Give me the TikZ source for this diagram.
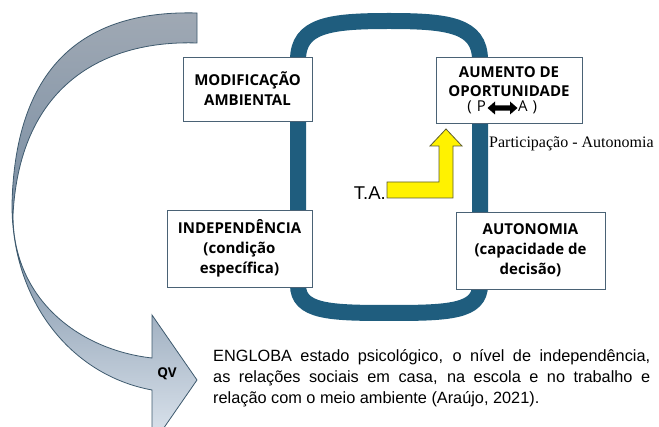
\documentclass[tikz,border=0pt]{standalone}
\usepackage{fontspec}
\setmainfont{Liberation Sans}
\newfontfamily\boxfont{Open Sans}
\newfontfamily\serifont{Liberation Serif}
\definecolor{loopblue}{RGB}{31,93,126}
\definecolor{boxline}{RGB}{74,98,117}
\definecolor{arrowline}{RGB}{62,90,110}
\definecolor{graytop}{RGB}{160,169,180}
\definecolor{graymid}{RGB}{120,141,163}
\definecolor{graybot}{RGB}{222,230,239}
\definecolor{yelline}{RGB}{92,92,46}
\begin{document}
\begin{tikzpicture}[x=1pt,y=-1pt,
  box/.style={draw=boxline, line width=0.9pt, fill=white, inner sep=0pt, align=center,
    font=\boxfont\bfseries\fontsize{15}{20}\selectfont},
  plain/.style={inner sep=0pt},
  bodytext/.style={inner sep=0pt, anchor=base west, font=\fontsize{16.3}{21}\selectfont}]
\useasboundingbox (0,0) rectangle (659,427);
% big curved grey arrow
\begin{scope}
\clip (0,0) rectangle (659,427);
\shade[top color=graytop, bottom color=graybot, middle color=graymid, draw=arrowline, line width=0.8pt]
  (197,13) .. controls (90,10) and (15,60) .. (12,205)
  .. controls (12,300) and (70,375) .. (152,390)
  -- (152,445) -- (197,380) -- (152,315) -- (152,358)
  .. controls (80,350) and (13,300) .. (13,215)
  .. controls (20,80) and (110,40) .. (197,43) -- cycle;
\end{scope}
% loop
\draw[loopblue, line width=16pt] (298,285) -- (298,60)
  .. controls (298,25) and (330,21) .. (389,21)
  .. controls (448,21) and (480,25) .. (480,60) -- (480,285)
  .. controls (480,312) and (448,313) .. (389,313)
  .. controls (330,313) and (298,312) .. (298,285) -- cycle;
% boxes
\node[box, minimum width=129pt, minimum height=64pt] (mod) at (247.5,89) {MODIFICAÇÃO\\AMBIENTAL};
\node[box, minimum width=145pt, minimum height=77pt] (ind) at (239.5,248.5) {INDEPENDÊNCIA\\(condição\\específica)};
\node[box, minimum width=146pt, minimum height=66pt] (aum) at (509,90) {};
\node[plain, align=center, font=\boxfont\bfseries\fontsize{15}{19}\selectfont] (aumt) at (509,81.5) {AUMENTO DE\\OPORTUNIDADE};
\node[box, minimum width=149pt, minimum height=77pt] (aut) at (530.5,250.5) {AUTONOMIA\\(capacidade de\\decisão)};
% (P <-> A)
\node[plain, anchor=mid east, font=\boxfont\fontsize{15}{17}\selectfont] (pl) at (486,109) {(\,\,P};
\node[plain, anchor=mid west, font=\boxfont\fontsize{15}{17}\selectfont] (ar) at (518,109) {A\,\,)};
\fill[black] (487.5,108) -- (495,101.5) -- (495,105.3) -- (510,105.3) -- (510,101.5) -- (517.5,108)
  -- (510,114.5) -- (510,110.7) -- (495,110.7) -- (495,114.5) -- cycle;
% yellow arrow
\draw[fill=yellow, draw=yelline, line width=0.8pt]
  (387,182) -- (439,182) -- (439,146) -- (430,146) -- (446,129) -- (462,146)
  -- (453,146) -- (453,198) -- (387,198) -- cycle;
\node[plain, anchor=base east, font=\fontsize{18.5}{22}\selectfont] (ta) at (386,200) {T.A.};
\node[plain, anchor=base west, font=\serifont\fontsize{16}{19}\selectfont] (pa) at (489,148) {Participação - Autonomia};
\node[plain, font=\boxfont\bfseries\fontsize{13.5}{16}\selectfont] (qv) at (167,374) {QV};
% body text
\node[bodytext] (l1) at (213,362) {\makebox[437pt][s]{ENGLOBA estado psicológico, o nível de independência,}};
\node[bodytext] (l2) at (213,383) {\makebox[437pt][s]{as relações sociais em casa, na escola e no trabalho e}};
\node[bodytext] (l3) at (213,404) {relação com o meio ambiente (Araújo, 2021).};
\end{tikzpicture}
\end{document}
